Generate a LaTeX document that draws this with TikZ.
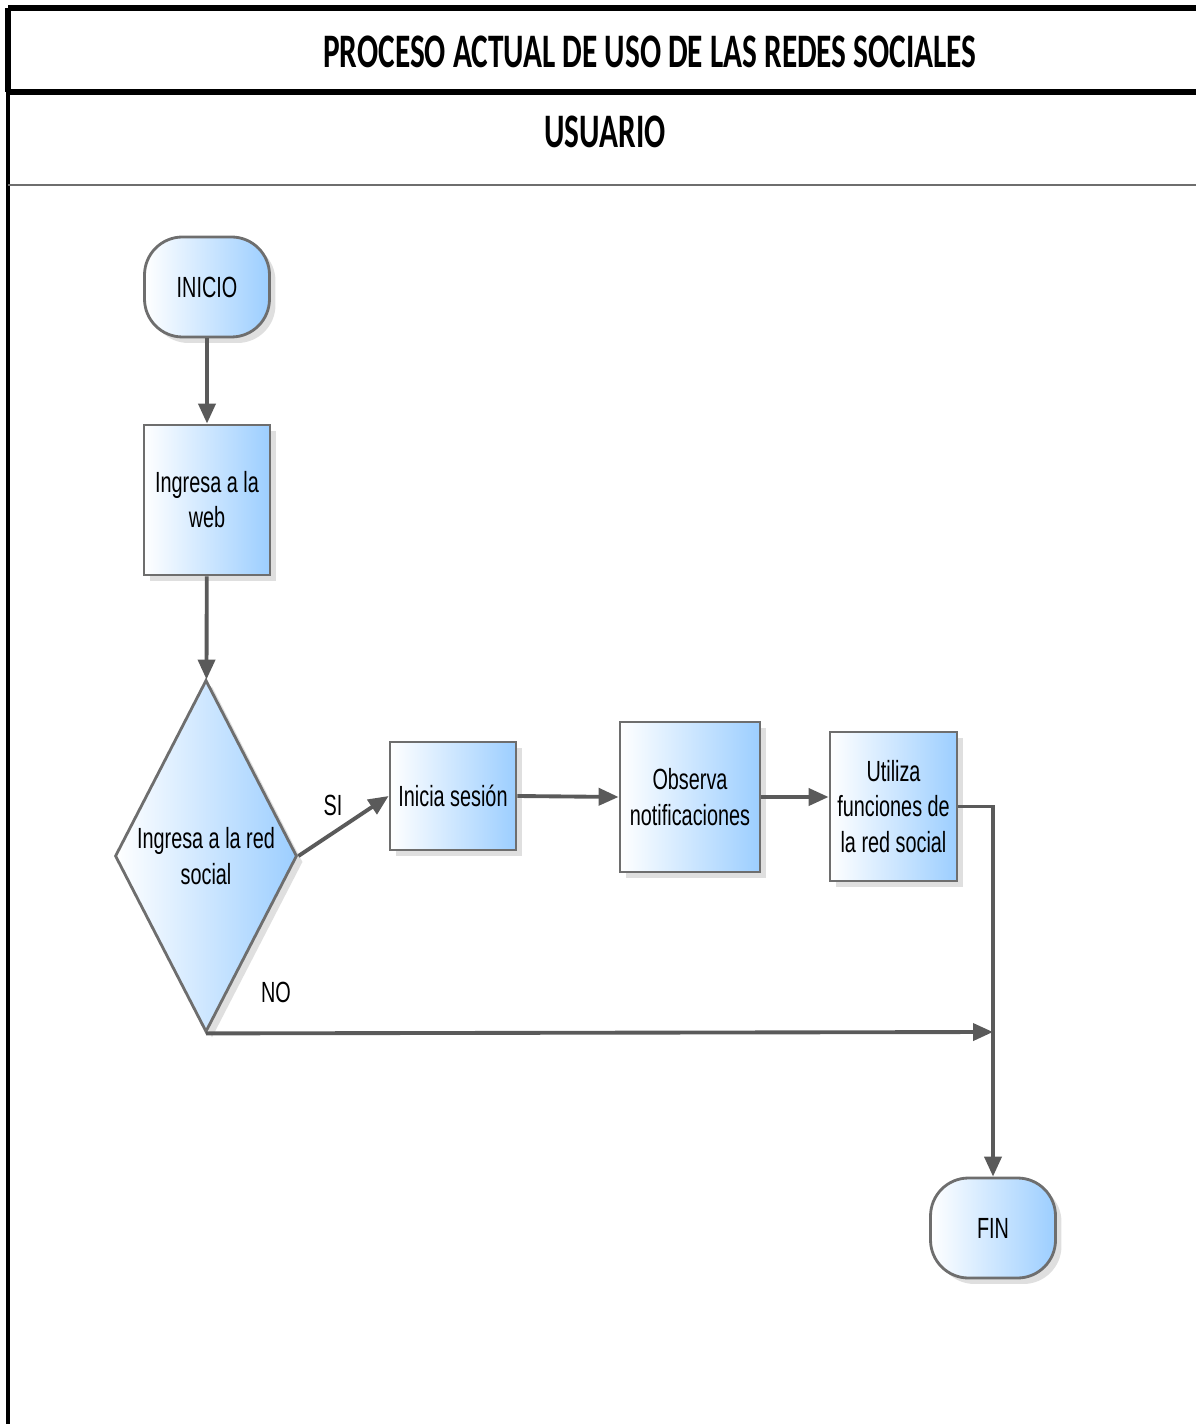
\documentclass[tikz,border=0pt]{standalone}
\usepackage{fontspec}
\newfontfamily\titlefont[FakeStretch=0.65]{Carlito}
\newfontfamily\boxfont[FakeStretch=0.68]{Liberation Sans}
\usetikzlibrary{arrows.meta,shapes.geometric,shadows}
\definecolor{borde}{HTML}{6E6E6E}
\definecolor{flecha}{HTML}{5A5A5A}
\definecolor{celeste}{HTML}{9CCEFF}

\begin{document}
\begin{tikzpicture}
\tikzstyle{caja}=[draw=borde,line width=0.8pt,left color=white,right color=celeste,text=black,font=\boxfont\fontsize{8.3}{10}\selectfont,align=center,inner sep=1pt,drop shadow={shadow xshift=1.7pt,shadow yshift=-1.7pt,fill=gray!50}]
\tikzstyle{term}=[caja,rounded corners=0.38cm,minimum width=1.25cm,minimum height=1cm]
\tikzstyle{op}=[-{Triangle[length=2mm,width=1.7mm]},color=flecha,line width=1.1pt]
\tikzstyle{etiq}=[font=\boxfont\fontsize{8.3}{10}\selectfont,text=black]
\useasboundingbox (0,0) rectangle (11.96,-14.24);

% marco
\draw[line width=1.6pt] (0.08,-0.08) -- (11.96,-0.08);
\draw[line width=1.6pt] (0.08,-0.92) -- (11.96,-0.92);
\draw[line width=1.6pt] (0.08,-0.08) -- (0.08,-0.92);
\draw[line width=0.9pt] (0.08,-0.92) -- (0.08,-14.24);
\draw[line width=0.8pt,color=borde] (0.08,-1.85) -- (11.96,-1.85);
\node (t1) at (6.5,-0.52) [font=\titlefont\bfseries\fontsize{13.7}{16}\selectfont]{PROCESO ACTUAL DE USO DE LAS REDES SOCIALES};
\node (t2) at (6.05,-1.32) [font=\titlefont\bfseries\fontsize{13.7}{16}\selectfont]{USUARIO};

\node (1) at (2.07,-2.87) [term]{INICIO};
\node (2) at (2.07,-5.00) [caja,minimum width=1.26cm,minimum height=1.50cm]{Ingresa a la\\web};
\node (3) at (2.06,-8.56) [caja,diamond,shape aspect=0.52,inner sep=0pt,minimum width=1.82cm,minimum height=3.52cm]{Ingresa a la red\\social};
\node (4) at (4.53,-7.96) [caja,minimum width=1.26cm,minimum height=1.08cm]{Inicia sesión};
\node (5) at (6.90,-7.97) [caja,minimum width=1.40cm,minimum height=1.50cm]{Observa\\notificaciones};
\node (6) at (8.935,-8.065) [caja,minimum width=1.27cm,minimum height=1.49cm]{Utiliza\\funciones de\\la red social};
\node (7) at (9.93,-12.28) [term]{FIN};
\node (8) at (3.33,-8.05) [etiq]{SI};
\node (9) at (2.76,-9.92) [etiq]{NO};
\coordinate (10) at (9.93,-8.065);
\coordinate (11) at (9.93,-10.32);

\draw[op] (1) -- (2);
\draw[op] (2) -- (3);
\draw[op] (3.east) -- (4.west);
\draw[op] (4.east) -- (5.west);
\draw[op] (5.east) -- (5.east -| 6.west);
\draw[op] (6) -- (10) -- (7);
\draw[op] (3.south) -- (11);
\end{tikzpicture}
\end{document}
